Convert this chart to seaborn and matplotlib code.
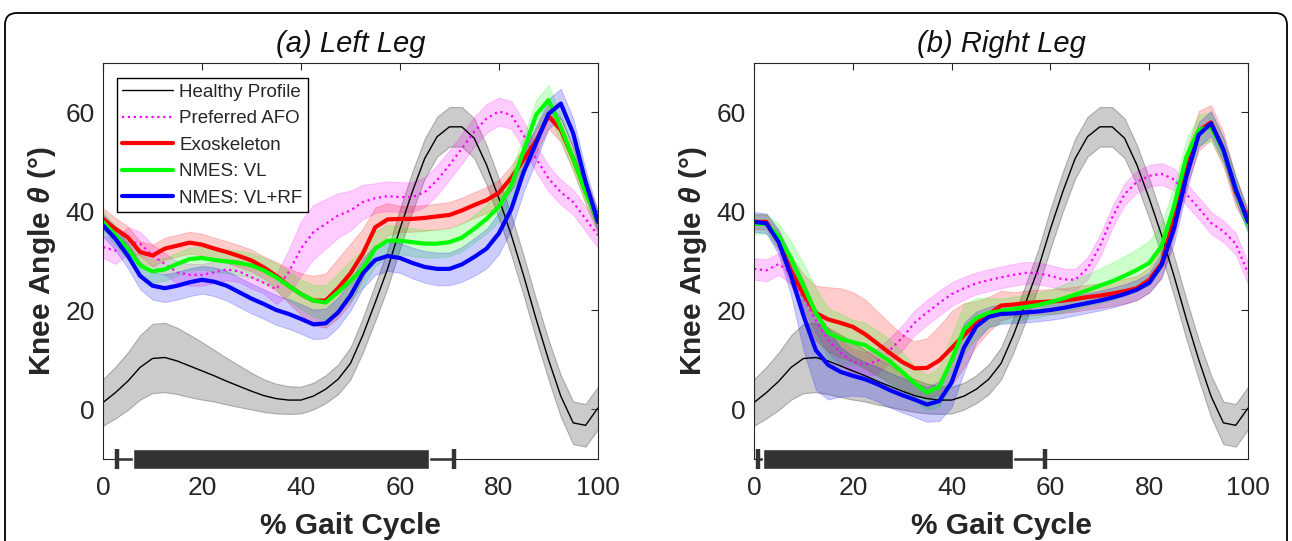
import numpy as np
import pandas as pd
import matplotlib
matplotlib.use('Agg')
import matplotlib.pyplot as plt
import seaborn as sns
from matplotlib.patches import FancyBboxPatch
from matplotlib.lines import Line2D

# % gait cycle sample grid
gait = np.arange(0, 100.1, 2.5)

# healthy reference profile (same in both legs)
healthy_mean = [1.4, 3.4, 5.7, 8.5, 10.3, 10.5, 9.8, 8.8, 7.8, 6.8, 5.7, 4.7, 3.7, 2.8, 2.2, 1.9, 1.9, 2.7, 4.1, 6.1,
                9.3, 15.0, 21.6, 28.4, 36.5, 44.0, 50.7, 55.1, 57.1, 57.1, 54.8, 49.4, 42.6, 35.2, 27.0, 18.3, 10.1, 2.7, -2.7, -3.2, 0.3]
healthy_sd = [4.7, 5.2, 5.8, 6.5, 7.0, 7.0, 6.7, 6.3, 5.8, 5.2, 4.7, 4.2, 3.7, 3.3, 3.0, 2.8, 2.7, 2.7, 2.8, 3.0,
              3.2, 3.5, 3.7, 3.8, 4.0, 4.0, 4.0, 4.0, 4.0, 4.0, 4.0, 4.0, 4.0, 4.0, 4.0, 4.0, 4.0, 4.2, 4.3, 4.3, 4.3]

# left leg
left_afo_mean = [32.8, 32.1, 34.1, 33.5, 31.1, 29.4, 27.7, 27.2, 27.2, 27.7, 28.3, 27.9, 26.7, 25.6, 24.3, 27.7, 32.5, 35.8, 37.5, 39.2,
                 40.2, 41.9, 42.7, 43.1, 42.9, 42.9, 43.9, 46.3, 49.4, 52.7, 56.1, 58.8, 60.2, 59.5, 55.4, 50.7, 46.7, 43.9, 41.9, 38.5, 35.2]
left_afo_sd = [2.2, 2.7, 2.7, 2.4, 2.2, 2.2, 2.2, 2.2, 2.2, 2.2, 2.2, 2.2, 2.2, 2.2, 3.0, 4.5, 5.5, 5.5, 5.0, 4.5,
               4.0, 3.5, 3.0, 3.0, 3.0, 3.0, 3.0, 3.0, 3.0, 3.0, 3.0, 2.9, 2.8, 2.8, 2.8, 2.7, 2.6, 2.5, 2.5, 2.5, 2.5]
left_exo_mean = [38.5, 36.5, 34.8, 31.8, 31.1, 32.5, 33.1, 33.7, 33.3, 32.5, 31.8, 31.0, 30.1, 28.7, 27.0, 25.0, 23.3, 22.0, 22.0, 24.5,
                 27.5, 31.5, 36.8, 38.4, 38.5, 38.5, 38.7, 39.0, 39.3, 40.2, 41.3, 42.3, 43.8, 46.8, 50.5, 54.3, 59.3, 56.5, 50.7, 44.0, 37.9]
left_exo_sd = [2.2, 2.2, 2.2, 2.2, 2.2, 2.2, 2.2, 2.2, 2.2, 2.2, 2.2, 2.2, 2.2, 2.2, 2.8, 3.5, 4.2, 5.0, 5.5, 6.0,
               6.0, 5.0, 4.0, 3.3, 2.6, 2.6, 2.6, 2.6, 2.6, 2.6, 2.6, 2.6, 2.6, 2.5, 2.5, 2.5, 2.5, 2.5, 2.5, 2.5, 2.5]
left_vl_mean = [37.9, 35.2, 32.5, 29.1, 27.9, 28.3, 29.4, 30.4, 30.6, 30.2, 29.9, 29.6, 29.1, 28.1, 26.7, 25.0, 23.3, 22.0, 21.6, 23.7,
                26.0, 28.5, 32.5, 34.1, 34.1, 33.8, 33.5, 33.5, 33.8, 34.7, 36.5, 38.5, 41.0, 45.3, 52.3, 59.5, 62.5, 57.0, 50.7, 43.9, 37.9]
left_vl_sd = [2.0, 2.0, 2.2, 2.3, 2.3, 2.3, 2.3, 2.3, 2.3, 2.4, 2.4, 2.5, 2.5, 2.6, 2.8, 3.0, 3.0, 3.2, 3.5, 3.8,
              4.0, 3.8, 3.5, 3.2, 2.8, 2.8, 2.8, 2.8, 2.8, 2.8, 2.8, 2.9, 3.0, 3.0, 3.0, 3.0, 3.0, 2.8, 2.5, 2.2, 2.0]
left_rf_mean = [37.2, 34.5, 31.1, 27.0, 25.0, 24.5, 25.0, 25.7, 26.2, 25.8, 25.0, 23.7, 22.4, 21.3, 20.1, 19.3, 18.3, 17.2, 17.4, 19.6,
                23.0, 27.5, 30.2, 31.0, 30.6, 29.6, 28.8, 28.4, 28.4, 29.3, 30.8, 32.5, 35.6, 40.5, 48.0, 53.8, 59.7, 61.8, 55.8, 46.0, 37.9]
left_rf_sd = [2.2, 2.3, 2.5, 2.7, 2.8, 2.8, 2.8, 2.8, 2.8, 2.9, 3.0, 3.0, 3.0, 3.0, 3.0, 3.0, 3.0, 3.0, 3.0, 3.0,
              3.0, 3.0, 3.0, 3.0, 3.0, 3.1, 3.2, 3.3, 3.3, 3.5, 3.8, 4.0, 4.2, 4.2, 4.0, 3.5, 3.0, 3.0, 3.0, 2.5, 2.0]

# right leg
right_afo_mean = [28.4, 28.1, 29.4, 27.5, 22.5, 18.0, 14.0, 11.5, 9.6, 9.1, 9.8, 12.0, 14.5, 17.5, 19.6, 21.5, 23.3, 24.5, 25.5, 26.1,
                  26.7, 27.2, 27.6, 27.5, 27.0, 26.3, 26.2, 28.5, 33.0, 38.8, 43.5, 46.0, 47.2, 47.6, 46.5, 43.5, 40.7, 37.7, 36.0, 33.5, 27.5]
right_afo_sd = [2.2, 2.2, 2.2, 2.2, 2.3, 2.4, 2.5, 2.5, 2.5, 2.5, 2.5, 2.5, 2.5, 2.5, 2.5, 2.5, 2.4, 2.3, 2.2, 2.2,
                2.2, 2.2, 2.2, 2.2, 2.2, 2.2, 2.2, 2.2, 2.2, 2.2, 2.2, 2.2, 2.2, 2.2, 2.2, 2.2, 2.2, 2.2, 2.2, 2.2, 2.2]
right_exo_mean = [37.9, 37.9, 34.0, 28.0, 23.3, 19.5, 18.2, 17.5, 16.7, 15.2, 13.3, 11.4, 9.6, 8.3, 8.4, 9.9, 12.4, 15.0, 17.4, 19.2,
                  21.0, 21.2, 21.5, 21.7, 21.8, 22.0, 22.3, 22.7, 23.0, 23.4, 23.9, 24.5, 26.2, 29.5, 38.5, 48.5, 56.3, 58.0, 52.5, 44.0, 38.5]
right_exo_sd = [1.5, 1.5, 2.0, 3.0, 4.0, 5.5, 6.5, 7.0, 7.0, 7.0, 6.5, 6.0, 5.5, 5.5, 6.0, 7.0, 7.5, 6.5, 4.5, 3.5,
                3.0, 2.5, 2.5, 2.5, 2.5, 2.5, 2.5, 2.5, 2.5, 2.5, 2.5, 2.5, 2.5, 3.0, 3.5, 3.5, 4.0, 3.5, 3.5, 3.0, 2.0]
right_vl_mean = [37.5, 37.5, 35.0, 30.5, 25.0, 19.5, 15.5, 14.3, 13.6, 13.0, 11.4, 9.7, 7.6, 5.3, 3.4, 4.6, 10.0, 16.2, 18.5, 19.5,
                 19.9, 20.3, 20.7, 21.1, 21.7, 22.4, 23.2, 24.1, 25.0, 25.9, 27.0, 28.2, 29.6, 33.0, 41.0, 51.0, 56.5, 57.1, 52.3, 44.5, 37.5]
right_vl_sd = [2.0, 2.0, 2.5, 3.5, 4.5, 5.0, 5.0, 5.0, 4.5, 4.5, 4.5, 4.5, 4.0, 3.5, 3.5, 4.0, 5.0, 5.0, 4.0, 3.0,
               2.5, 2.5, 2.5, 2.5, 2.5, 2.8, 3.0, 3.2, 3.5, 3.8, 4.0, 4.2, 4.5, 4.5, 4.0, 3.5, 3.0, 3.0, 2.5, 2.5, 2.0]
right_rf_mean = [37.9, 37.6, 33.8, 27.0, 19.0, 12.0, 9.0, 7.6, 6.8, 6.1, 5.1, 3.9, 2.9, 2.0, 1.0, 1.7, 5.5, 12.5, 16.8, 18.7,
                 19.3, 19.4, 19.6, 19.8, 20.1, 20.5, 21.0, 21.5, 22.0, 22.6, 23.3, 24.2, 25.6, 29.2, 36.5, 47.0, 55.5, 57.8, 52.5, 44.5, 37.9]
right_rf_sd = [2.0, 2.0, 2.5, 4.0, 7.0, 8.0, 7.0, 5.0, 4.0, 3.5, 3.5, 3.5, 3.5, 3.5, 3.5, 4.0, 5.0, 5.0, 3.0, 2.0,
               2.0, 2.0, 2.0, 2.0, 2.0, 2.0, 2.0, 2.0, 2.0, 2.0, 2.0, 2.0, 2.0, 2.5, 3.0, 3.0, 2.5, 2.5, 2.5, 2.5, 2.0]

# timing bars under each panel: whisker low, box low, box high, whisker high
left_bar = [2.8, 6.1, 65.9, 70.9]
right_bar = [0.9, 1.9, 52.4, 58.9]

labels = ['Healthy Profile', 'Preferred AFO', 'Exoskeleton', 'NMES: VL', 'NMES: VL+RF']
colors = ['#000000', '#ff00ff', '#ff0000', '#00ff00', '#0000ff']
widths = [1.0, 1.6, 3.0, 3.0, 3.0]
styles = ['-', ':', '-', '-', '-']

panels = [
    ('(a) Left Leg', [(healthy_mean, healthy_sd), (left_afo_mean, left_afo_sd), (left_exo_mean, left_exo_sd),
                      (left_vl_mean, left_vl_sd), (left_rf_mean, left_rf_sd)], left_bar),
    ('(b) Right Leg', [(healthy_mean, healthy_sd), (right_afo_mean, right_afo_sd), (right_exo_mean, right_exo_sd),
                       (right_vl_mean, right_vl_sd), (right_rf_mean, right_rf_sd)], right_bar),
]

sns.set_theme(style='white')
plt.rcParams['font.family'] = ['Liberation Sans', 'DejaVu Sans']
plt.rcParams['mathtext.fontset'] = 'custom'
plt.rcParams['mathtext.it'] = 'Liberation Sans:italic:bold'
plt.rcParams['mathtext.rm'] = 'Liberation Sans:bold'

fig = plt.figure(figsize=(12.92, 5.41), dpi=100)
axes = [fig.add_axes([0.0797, 0.1516, 0.3831, 0.732]),
        fig.add_axes([0.5836, 0.1516, 0.3824, 0.732])]

for ax, (title, series, bar) in zip(axes, panels):
    for (m, sd), c, lab in zip(series, colors, labels):
        m = np.asarray(m)
        sd = np.asarray(sd)
        if lab == 'Healthy Profile':
            ax.fill_between(gait, m - sd, m + sd, facecolor='#7f7f7f', alpha=0.4,
                            edgecolor='#555555', linewidth=0.8, zorder=1)
        else:
            ax.fill_between(gait, m - sd, m + sd, facecolor=c, alpha=0.2,
                            edgecolor=c, linewidth=0.7, zorder=1)
    for (m, sd), c, lw, ls, lab in zip(series, colors, widths, styles, labels):
        df = pd.DataFrame({'gait': gait, 'angle': m})
        sns.lineplot(data=df, x='gait', y='angle', ax=ax, color=c, linewidth=lw,
                     linestyle=ls, zorder=2, legend=False)

    # timing bar on the bottom axis line
    ax.hlines(-10, bar[0], bar[3], color='#333333', linewidth=1.8, clip_on=False, zorder=4)
    ax.vlines([bar[0], bar[3]], -12, -8, color='#333333', linewidth=3.2, clip_on=False, zorder=4)
    ax.barh(-10, bar[2] - bar[1], left=bar[1], height=4.0, color='#333333',
            clip_on=False, zorder=4)

    ax.set_xlim(0, 100)
    ax.set_ylim(-10, 70)
    ax.set_xticks([0, 20, 40, 60, 80, 100])
    ax.set_yticks([0, 20, 40, 60])
    ax.tick_params(direction='in', length=5, width=0.8, top=True, right=True,
                   labelsize=19, colors='#262626')
    ax.tick_params(axis='x', pad=12)
    ax.tick_params(axis='y', pad=6)
    for s in ax.spines.values():
        s.set_color('#262626')
        s.set_linewidth(0.8)
    ax.set_title(title, fontstyle='italic', fontsize=21, pad=8, color='#111111')
    ax.set_xlabel('% Gait Cycle', fontsize=21.5, fontweight='bold', labelpad=9, color='#262626')
    ax.set_ylabel(r'Knee Angle $\theta$ (°)', fontsize=21.5, fontweight='bold', labelpad=5, color='#262626')

handles = [Line2D([], [], color=c, linewidth=lw, linestyle=ls) for c, lw, ls in zip(colors, widths, styles)]
leg = axes[0].legend(handles, labels, loc='upper left', bbox_to_anchor=(0.028, 0.962), borderaxespad=0,
                     fontsize=13.5, frameon=True, fancybox=False, framealpha=1, edgecolor='black',
                     handlelength=2.7, handletextpad=0.32, labelspacing=0.5, borderpad=0.3)
leg.get_frame().set_linewidth(1.0)
leg.set_zorder(5)

# rounded frame around the whole figure
frame = FancyBboxPatch((0.05, -0.5), 12.82, 5.41 - 0.13 + 0.5,
                       boxstyle='round,pad=0,rounding_size=0.12',
                       transform=fig.dpi_scale_trans, facecolor='none',
                       edgecolor='black', linewidth=1.3)
fig.patches.append(frame)

fig.savefig('out.png', dpi=100)
